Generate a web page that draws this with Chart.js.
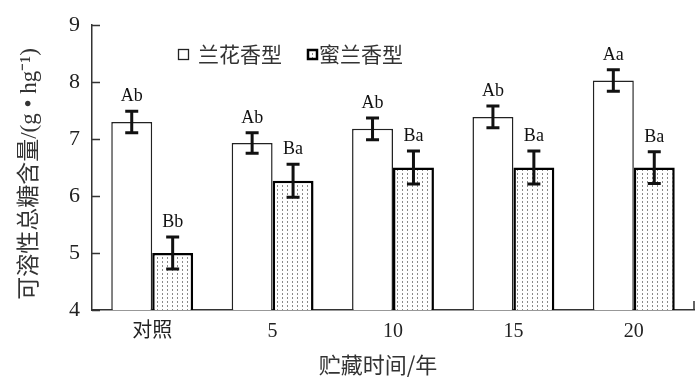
<!DOCTYPE html>
<html>
<head>
<meta charset="utf-8">
<script src="https://cdn.jsdelivr.net/npm/chart.js@4/dist/chart.umd.min.js"></script>
<style>
  html, body { margin: 0; padding: 0; background: #fff; }
  #wrap { width: 700px; height: 384px; }
</style>
</head>
<body>
<div id="wrap"><canvas id="myChart" width="700" height="384"></canvas></div>
<script>
// data
var categories = ['对照', '5', '10', '15', '20'];
var series_names = ['兰花香型', '蜜兰香型'];
var values_lanhua = [7.30, 6.93, 7.18, 7.39, 8.03];
var errors_lanhua = [0.19, 0.18, 0.19, 0.19, 0.19];
var letters_lanhua = ['Ab', 'Ab', 'Ab', 'Ab', 'Aa'];
var values_milan = [5.00, 6.27, 6.50, 6.50, 6.50];
var errors_milan = [0.28, 0.29, 0.29, 0.29, 0.28];
var letters_milan = ['Bb', 'Ba', 'Ba', 'Ba', 'Ba'];
var y_ticks = [4, 5, 6, 7, 8, 9];
var x_title = '贮藏时间/年';
var y_title = '可溶性总糖含量/(g • hg⁻¹)';

var serif = '"Liberation Serif", "Noto Sans CJK SC", serif';
var cjk = '"Noto Sans CJK SC", "Liberation Serif", sans-serif';

function makeDots(){
    let c = document.createElement('canvas');
    c.width = 5; c.height = 4;
    let g = c.getContext('2d');
    g.fillStyle = '#fff';
    g.fillRect(0, 0, 5, 4);
    g.fillStyle = '#8a8a8a';
    g.fillRect(2, 1, 1, 2);
    return g.createPattern(c, 'repeat');
}
var dots = makeDots();

var errors_all = [errors_lanhua, errors_milan];
var letters_all = [letters_lanhua, letters_milan];

// error bars, letters, inward ticks, legend, axis titles
const extras = {
    id: 'extras',
    afterDatasetsDraw(chart){
        const ctx = chart.ctx;
        const ys = chart.scales.y;
        const area = chart.chartArea;
        ctx.save();
        chart.data.datasets.forEach((ds, di) => {
            const meta = chart.getDatasetMeta(di);
            meta.data.forEach((el, i) => {
                const v = ds.data[i];
                const e = errors_all[di][i];
                const top = ys.getPixelForValue(v + e);
                const bot = ys.getPixelForValue(v - e);
                ctx.strokeStyle = '#111';
                ctx.lineWidth = 3;
                ctx.beginPath();
                ctx.moveTo(el.x, top); ctx.lineTo(el.x, bot);
                ctx.moveTo(el.x - 6.5, top); ctx.lineTo(el.x + 6.5, top);
                ctx.moveTo(el.x - 6.5, bot); ctx.lineTo(el.x + 6.5, bot);
                ctx.stroke();
                ctx.fillStyle = '#111';
                ctx.font = '18px ' + serif;
                ctx.textAlign = 'center';
                ctx.textBaseline = 'alphabetic';
                ctx.fillText(letters_all[di][i], el.x, top - 10);
            });
        });
        // inward y ticks
        ctx.strokeStyle = '#333';
        ctx.lineWidth = 1.5;
        ctx.beginPath();
        y_ticks.forEach(t => {
            const py = Math.round(ys.getPixelForValue(t)) + 0.5;
            ctx.moveTo(area.left, py); ctx.lineTo(area.left + 8, py);
        });
        // small tick at the right end of x axis
        ctx.moveTo(area.right, area.bottom); ctx.lineTo(area.right, area.bottom - 9);
        ctx.stroke();

        // legend
        ctx.font = '21px ' + cjk;
        ctx.textBaseline = 'middle';
        ctx.textAlign = 'left';
        ctx.fillStyle = '#fff';
        ctx.strokeStyle = '#222';
        ctx.lineWidth = 1.3;
        ctx.fillRect(178, 49, 10, 10);
        ctx.strokeRect(178.5, 49.5, 10, 10);
        ctx.fillStyle = '#333';
        ctx.fillText(series_names[0], 198, 54);
        ctx.fillStyle = dots;
        ctx.fillRect(307, 49, 10, 10);
        ctx.strokeStyle = '#000';
        ctx.lineWidth = 2.5;
        ctx.strokeRect(308, 50, 9, 9);
        ctx.fillStyle = '#333';
        ctx.fillText(series_names[1], 319, 54);

        // axis titles
        ctx.fillStyle = '#333';
        ctx.textAlign = 'center';
        ctx.textBaseline = 'middle';
        ctx.font = '22px ' + cjk;
        ctx.fillText(x_title, 378, 365);
        ctx.translate(30, 174);
        ctx.rotate(-Math.PI / 2);
        ctx.font = '23px ' + serif;
        ctx.fillText(y_title, 0, 0);
        ctx.restore();
    }
};

const ctx = document.getElementById('myChart');
new Chart(ctx, {
    type: 'bar',
    data: {
        labels: categories,
        datasets: [{
            label: series_names[0],
            data: values_lanhua,
            backgroundColor: '#fff',
            borderColor: '#222',
            borderWidth: 1.5,
            categoryPercentage: 0.68,
            barPercentage: 1.0
        }, {
            label: series_names[1],
            data: values_milan,
            backgroundColor: dots,
            borderColor: '#000',
            borderWidth: 2.5,
            categoryPercentage: 0.68,
            barPercentage: 1.0
        }]
    },
    options: {
        responsive: false,
        animation: false,
        events: [],
        layout: { padding: { top: 22, right: 6, left: 0, bottom: 0 } },
        plugins: {
            legend: { display: false },
            tooltip: { enabled: false }
        },
        scales: {
            x: {
                grid: { display: false, drawTicks: false },
                border: { display: true, color: '#333', width: 1.5 },
                ticks: { color: '#222', padding: 10, font: { family: serif, size: 20 } },
                afterFit: s => { s.height = 74; }
            },
            y: {
                min: 4,
                max: 9,
                grid: { display: false, drawTicks: false },
                border: { display: true, color: '#333', width: 1.5 },
                ticks: { stepSize: 1, color: '#222', padding: 12, font: { family: serif, size: 22 } },
                afterFit: s => { s.width = 92; }
            }
        }
    },
    plugins: [extras]
});
</script>
</body>
</html>
